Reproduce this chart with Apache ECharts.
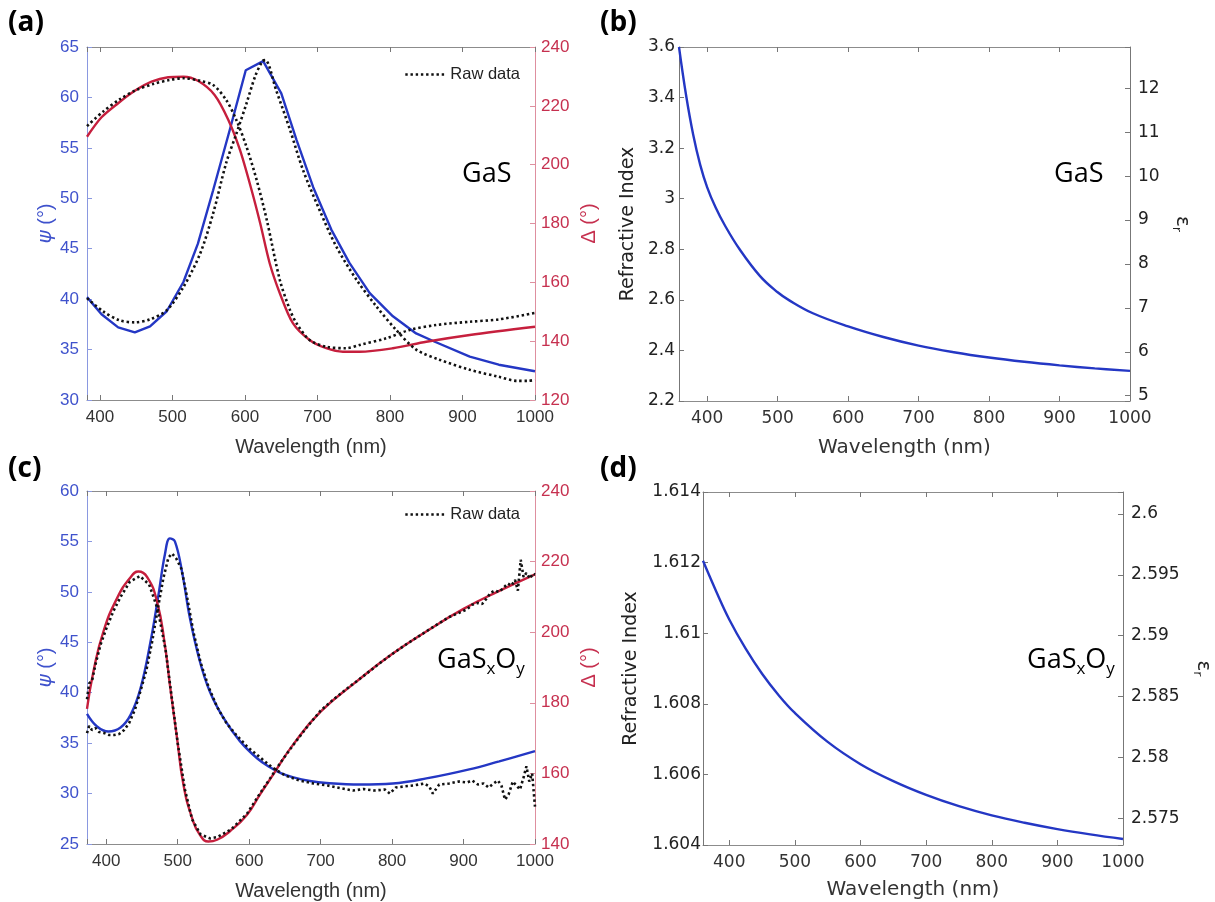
<!DOCTYPE html>
<html lang="en">
<head>
<meta charset="UTF-8">
<title>GaS / GaSxOy ellipsometry</title>
<script src="https://cdn.jsdelivr.net/npm/echarts@6/dist/echarts.min.js"></script>
<style>html,body{margin:0;padding:0;background:#fff;}</style>
</head>
<body>
<div id="main" style="width:1215px;height:902px;"></div>
<script type="text/javascript">
// ---- (a) GaS : psi / delta, fit and raw data ----
var aPsiFitWl = [382, 402, 425, 448, 469, 492, 515, 535, 556, 579, 601, 625, 650, 671, 694, 719, 744, 772, 804, 836, 861, 910, 950, 1000];
var aPsiFit   = [40.2, 38.5, 37.2, 36.7, 37.3, 38.8, 41.7, 45.5, 50.8, 56.8, 62.7, 63.6, 60.4, 55.8, 51.1, 46.9, 43.6, 40.6, 38.3, 36.6, 35.8, 34.3, 33.5, 32.85];
var aDelFitWl = [382, 402, 425, 448, 471, 494, 515, 535, 558, 577, 593, 609, 621, 634, 648, 666, 689, 712, 735, 758, 804, 850, 910, 1000];
var aDelFit   = [209.5, 216.1, 220.9, 225.1, 228.2, 229.7, 229.9, 228.5, 223.7, 215.2, 205.0, 191.4, 180.0, 166.5, 156.3, 146.1, 140.4, 137.6, 136.4, 136.4, 137.6, 139.8, 142.1, 144.9];
var aPsiRawWl = [382, 404, 427, 448, 469, 492, 515, 538, 556, 574, 588, 602, 614, 624, 628, 643, 662, 680, 703, 726, 754, 781, 809, 836, 868, 910, 950, 975, 990, 1000];
var aPsiRaw   = [40.1, 38.8, 37.9, 37.7, 38.0, 38.9, 41.2, 44.5, 48.5, 53.5, 56.4, 59.4, 62.1, 63.6, 63.7, 60.7, 56.8, 52.8, 48.8, 45.2, 41.9, 39.3, 36.9, 35.0, 34.0, 33.0, 32.3, 31.9, 31.9, 32.0];
var aDelRawWl = [382, 404, 427, 450, 473, 496, 515, 538, 556, 574, 588, 602, 616, 630, 648, 662, 671, 689, 712, 740, 758, 795, 827, 864, 910, 950, 1000];
var aDelRaw   = [213.1, 218.0, 222.2, 225.4, 227.4, 228.8, 229.4, 228.5, 227.1, 222.0, 215.2, 206.1, 194.8, 181.2, 160.8, 150.6, 146.1, 140.4, 138.1, 137.6, 138.7, 141.0, 143.8, 145.5, 146.6, 147.4, 149.6];

// ---- (b) GaS : refractive index ----
var bWl = [360, 370, 380, 390, 400, 412, 425, 446, 475, 500, 516, 550, 600, 650, 700, 750, 800, 850, 900, 950, 1000];
var bN  = [3.60, 3.41, 3.255, 3.135, 3.045, 2.965, 2.895, 2.80, 2.694, 2.630, 2.599, 2.547, 2.495, 2.453, 2.419, 2.393, 2.372, 2.355, 2.341, 2.329, 2.319];

// ---- (c) GaSxOy : psi / delta, fit and raw data ----
var cPsiFitWl = [373, 387, 403, 420, 434, 448, 462, 473, 482, 489, 496, 506, 517, 531, 545, 564, 587, 611, 629, 645, 662, 685, 708, 755, 801, 848, 908, 950, 1000];
var cPsiFit   = [37.9, 36.65, 36.15, 36.55, 37.8, 40.45, 45.1, 49.7, 53.7, 55.3, 55.0, 52.0, 47.4, 43.1, 40.1, 37.5, 35.2, 33.5, 32.6, 32.0, 31.6, 31.25, 31.05, 30.9, 31.0, 31.5, 32.4, 33.2, 34.2];
var cDelFitWl = [373, 382, 396, 415, 433, 445, 457, 471, 482, 489, 499, 508, 520, 531, 543, 555, 573, 597, 615, 634, 662, 700, 750, 800, 850, 900, 950, 1000];
var cDelFit   = [178.3, 188.9, 200.2, 209.6, 215.3, 217.2, 215.7, 208.7, 196.4, 185.1, 170.0, 156.8, 147.4, 142.6, 140.7, 141.2, 143.6, 148.3, 154.0, 159.8, 168.3, 177.5, 186.0, 193.8, 200.5, 206.6, 211.7, 216.4];
var cPsiRawWl = [373, 376, 380, 385, 390, 397, 404, 411, 418, 425, 432, 440, 448, 456, 464, 472, 480, 487, 492, 498,
                 505, 513, 522, 532, 543, 555, 568, 582, 598, 615, 632, 650, 670, 690, 710, 730, 745, 760, 775, 790,
                 797, 805, 816, 830, 845, 852, 857, 866, 880, 893, 905, 912, 920, 928, 935, 942, 948, 953, 958, 963,
                 969, 974, 979, 984, 988, 992, 996, 1000];
var cPsiRaw   = [36.0, 36.7, 36.3, 36.5, 36.1, 36.0, 35.8, 35.8, 35.9, 36.3, 37.0, 38.3, 40.2, 42.2, 45.0, 48.3, 51.4, 53.4, 53.8, 53.3,
                 52.3, 49.5, 46.0, 43.0, 40.6, 38.6, 37.0, 35.8, 34.6, 33.6, 32.6, 31.8, 31.3, 31.0, 30.8, 30.5, 30.3, 30.45, 30.3, 30.4,
                 30.0, 30.6, 30.7, 30.8, 31.0, 30.7, 30.0, 30.9, 31.0, 31.2, 31.1, 31.3, 30.9, 31.0, 30.6, 31.0, 31.3, 30.8, 29.4, 29.9,
                 31.2, 30.8, 30.4, 31.6, 32.7, 31.2, 32.0, 28.7];
var cDelRawWl = [373, 376, 380, 385, 392, 400, 410, 420, 433, 447, 460, 472, 483, 490, 500, 510, 520, 532, 545, 556,
                 575, 597, 615, 630, 645, 660, 680, 700, 720, 740, 760, 780, 800, 820, 840, 860, 880, 895, 905, 912, 920, 926, 932,
                 938, 944, 950, 956, 962, 967, 972, 976, 980, 984, 988, 993, 997, 1000];
var cDelRaw   = [181.0, 185.5, 186.2, 191.0, 196.5, 201.0, 206.0, 210.0, 214.3, 215.9, 213.5, 206.5, 195.0, 184.0, 168.5, 155.5, 147.0, 142.7, 141.6, 142.0,
                 144.2, 148.6, 154.3, 158.8, 163.4, 167.6, 172.9, 177.8, 181.3, 184.5, 187.6, 190.8, 193.8, 196.6, 199.2, 201.8, 204.3, 205.6, 206.5, 207.8, 208.3, 208.0, 209.5,
                 211.2, 211.8, 211.4, 212.6, 213.8, 213.2, 214.8, 211.8, 220.5, 215.6, 216.8, 215.2, 216.6, 216.3];

// ---- (d) GaSxOy : refractive index ----
var dWl = [360, 380, 400, 425, 450, 475, 500, 550, 600, 650, 700, 750, 800, 850, 900, 950, 1000];
var dN  = [1.61205, 1.61119, 1.61039, 1.60956, 1.60885, 1.60825, 1.60774, 1.60692, 1.60629, 1.60581, 1.60542, 1.6051, 1.60484, 1.60463, 1.60445, 1.6043, 1.60417];

var SANS = '"Liberation Sans", Arial, sans-serif';
var DV = '"DejaVu Sans", Verdana, sans-serif';
var OPEN = '"Open Sans", sans-serif';
var BLUE = '#2437c4', RED = '#c61f3d';
var BLUE_TXT = '#3f52cc', RED_TXT = '#c6304f';

function pairs(xs, ys) {
    return xs.map(function (x, i) { return [x, ys[i]]; });
}
function trim(d) {
    return function (v) { return String(parseFloat(v.toFixed(d))); };
}
function stepLabel(step, d) {
    return function (v) {
        var k = Math.round(v / step);
        return Math.abs(v - k * step) < step * 1e-4 ? String(parseFloat((k * step).toFixed(d))) : '';
    };
}

function xBottom(grid, min, font, gap) {
    return {
        type: 'value', gridIndex: grid, position: 'bottom', min: min, max: 1000,
        splitLine: {show: false},
        axisLine: {onZero: false, lineStyle: {color: '#8c8c8c'}},
        axisTick: {inside: true, length: 5, lineStyle: {color: '#777'}},
        axisLabel: {color: '#333', fontSize: 17, fontFamily: font, margin: 9, formatter: stepLabel(100, 0)},
        name: 'Wavelength (nm)', nameLocation: 'middle', nameGap: gap,
        nameTextStyle: {color: '#333', fontSize: 20, fontFamily: font}
    };
}
function xTop(grid, min) {
    return {
        type: 'value', gridIndex: grid, position: 'top', min: min, max: 1000,
        splitLine: {show: false},
        axisLine: {onZero: false, lineStyle: {color: '#8c8c8c'}},
        axisTick: {inside: true, length: 5, lineStyle: {color: '#777'}},
        axisLabel: {show: false}
    };
}
function yAxis(o) {
    return {
        type: 'value', gridIndex: o.grid, position: o.pos, min: o.min, max: o.max,
        interval: o.interval, splitNumber: o.split,
        splitLine: {show: false},
        axisLine: {show: true, onZero: false, lineStyle: {color: o.line}},
        axisTick: {show: true, inside: true, length: 5, lineStyle: {color: o.line}},
        axisLabel: {color: o.label, fontSize: 17, fontFamily: o.font, margin: o.margin, formatter: o.fmt},
        name: o.name, nameLocation: 'middle', nameGap: o.gap, nameRotate: o.rotate,
        nameTextStyle: {color: o.label, fontSize: o.nameSize || 20, fontFamily: o.font, rich: o.rich}
    };
}
function line(name, xi, yi, xs, ys, color, dotted, smooth) {
    return {
        name: name, type: 'line', xAxisIndex: xi, yAxisIndex: yi,
        data: pairs(xs, ys), symbol: 'none', showSymbol: false, smooth: smooth,
        z: dotted ? 4 : 3,
        itemStyle: {color: 'rgba(0,0,0,0)'},
        lineStyle: dotted ? {color: '#111', width: 2.6, type: [2.4, 2.8], cap: 'butt'}
                          : {color: color, width: 2.4}
    };
}
function rawLegend(top) {
    return {
        data: ['Raw data'], selectedMode: false, left: 404, top: top, padding: 0,
        itemWidth: 40, itemHeight: 14,
        itemStyle: {color: 'rgba(0,0,0,0)', borderWidth: 0},
        lineStyle: {color: '#111', width: 2.6, type: [2.4, 2.8]},
        textStyle: {fontSize: 16.5, fontFamily: SANS, color: '#222'}
    };
}

var psiRich = {g: {fontStyle: 'italic', fontSize: 20, color: BLUE_TXT, fontFamily: DV}};
var epsRich = {e: {fontSize: 20, color: '#222', fontFamily: DV, lineHeight: 24},
               r: {fontSize: 13, color: '#222', fontFamily: DV, verticalAlign: 'bottom', lineHeight: 12}};
var subRich = {n: {fontSize: 27, fontFamily: OPEN, fill: '#000', lineHeight: 34},
               s: {fontSize: 17, fontFamily: OPEN, fill: '#000', verticalAlign: 'bottom', lineHeight: 14}};

var myChart = echarts.init(document.getElementById('main'));
var option = {
    animation: false,
    backgroundColor: '#fff',
    grid: [
        {left: 87, top: 47, width: 448, height: 353},
        {left: 679, top: 47, width: 451, height: 354},
        {left: 87, top: 491, width: 448, height: 353},
        {left: 703, top: 492, width: 420, height: 353}
    ],
    xAxis: [
        xBottom(0, 382, SANS, 37), xTop(0, 382),
        xBottom(1, 360, DV, 37), xTop(1, 360),
        xBottom(2, 373, SANS, 37), xTop(2, 373),
        xBottom(3, 360, DV, 35), xTop(3, 360)
    ],
    yAxis: [
        yAxis({grid: 0, pos: 'left', min: 30, max: 65, interval: 5, line: '#8a98e0', label: BLUE_TXT, font: SANS, margin: 8,
               name: '{g|ψ} (°)', gap: 31, rotate: 90, rich: psiRich}),
        yAxis({grid: 0, pos: 'right', min: 120, max: 240, interval: 20, line: '#de8f9f', label: RED_TXT, font: SANS, margin: 6,
               name: 'Δ (°)', gap: 44, rotate: 90}),
        yAxis({grid: 1, pos: 'left', min: 2.2, max: 3.6, interval: 0.2, line: '#777', label: '#222', font: DV, margin: 4,
               fmt: trim(2), name: 'Refractive Index', nameSize: 19, gap: 41, rotate: 90}),
        yAxis({grid: 1, pos: 'right', min: 4.879, max: 12.94, split: 8, line: '#777', label: '#222', font: DV, margin: 8,
               fmt: stepLabel(1, 0), name: '{e|ε}{r|r}', gap: 40, rotate: -90, rich: epsRich}),
        yAxis({grid: 2, pos: 'left', min: 25, max: 60, interval: 5, line: '#8a98e0', label: BLUE_TXT, font: SANS, margin: 8,
               name: '{g|ψ} (°)', gap: 31, rotate: 90, rich: psiRich}),
        yAxis({grid: 2, pos: 'right', min: 140, max: 240, interval: 20, line: '#de8f9f', label: RED_TXT, font: SANS, margin: 6,
               name: 'Δ (°)', gap: 44, rotate: 90}),
        yAxis({grid: 3, pos: 'left', min: 1.604, max: 1.614, interval: 0.002, line: '#777', label: '#222', font: DV, margin: 2,
               fmt: trim(3), name: 'Refractive Index', nameSize: 19, gap: 62, rotate: 90}),
        yAxis({grid: 3, pos: 'right', min: 2.5728, max: 2.6018, split: 6, line: '#777', label: '#222', font: DV, margin: 8,
               fmt: stepLabel(0.005, 3), name: '{e|ε}{r|r}', gap: 68, rotate: -90, rich: epsRich})
    ],
    legend: [rawLegend(66), rawLegend(506)],
    graphic: [
        {type: 'text', left: 8, top: 9, style: {text: '(a)', fontSize: 28, fontWeight: 'bold', fontFamily: OPEN, fill: '#000'}},
        {type: 'text', left: 600, top: 9, style: {text: '(b)', fontSize: 28, fontWeight: 'bold', fontFamily: OPEN, fill: '#000'}},
        {type: 'text', left: 8, top: 455, style: {text: '(c)', fontSize: 28, fontWeight: 'bold', fontFamily: OPEN, fill: '#000'}},
        {type: 'text', left: 600, top: 455, style: {text: '(d)', fontSize: 28, fontWeight: 'bold', fontFamily: OPEN, fill: '#000'}},
        {type: 'text', left: 462, top: 161, style: {text: 'GaS', fontSize: 27, fontFamily: OPEN, fill: '#000'}},
        {type: 'text', left: 1054, top: 161, style: {text: 'GaS', fontSize: 27, fontFamily: OPEN, fill: '#000'}},
        {type: 'text', left: 437, top: 647, style: {text: '{n|GaS}{s|x}{n|O}{s|y}', rich: subRich}},
        {type: 'text', left: 1027, top: 647, style: {text: '{n|GaS}{s|x}{n|O}{s|y}', rich: subRich}}
    ],
    series: [
        line('ψ fit a', 0, 0, aPsiFitWl, aPsiFit, BLUE, false, false),
        line('Δ fit a', 0, 1, aDelFitWl, aDelFit, RED, false, 0.3),
        line('Raw data', 0, 0, aPsiRawWl, aPsiRaw, '#111', true, 0.3),
        line('Raw data', 0, 1, aDelRawWl, aDelRaw, '#111', true, 0.3),
        line('n b', 2, 2, bWl, bN, BLUE, false, 0.4),
        line('ψ fit c', 4, 4, cPsiFitWl, cPsiFit, BLUE, false, 0.4),
        line('Δ fit c', 4, 5, cDelFitWl, cDelFit, RED, false, 0.5),
        line('Raw data', 4, 4, cPsiRawWl, cPsiRaw, '#111', true, false),
        line('Raw data', 4, 5, cDelRawWl, cDelRaw, '#111', true, false),
        line('n d', 6, 6, dWl, dN, BLUE, false, 0.4)
    ]
};
myChart.setOption(option);
</script>
</body>
</html>
